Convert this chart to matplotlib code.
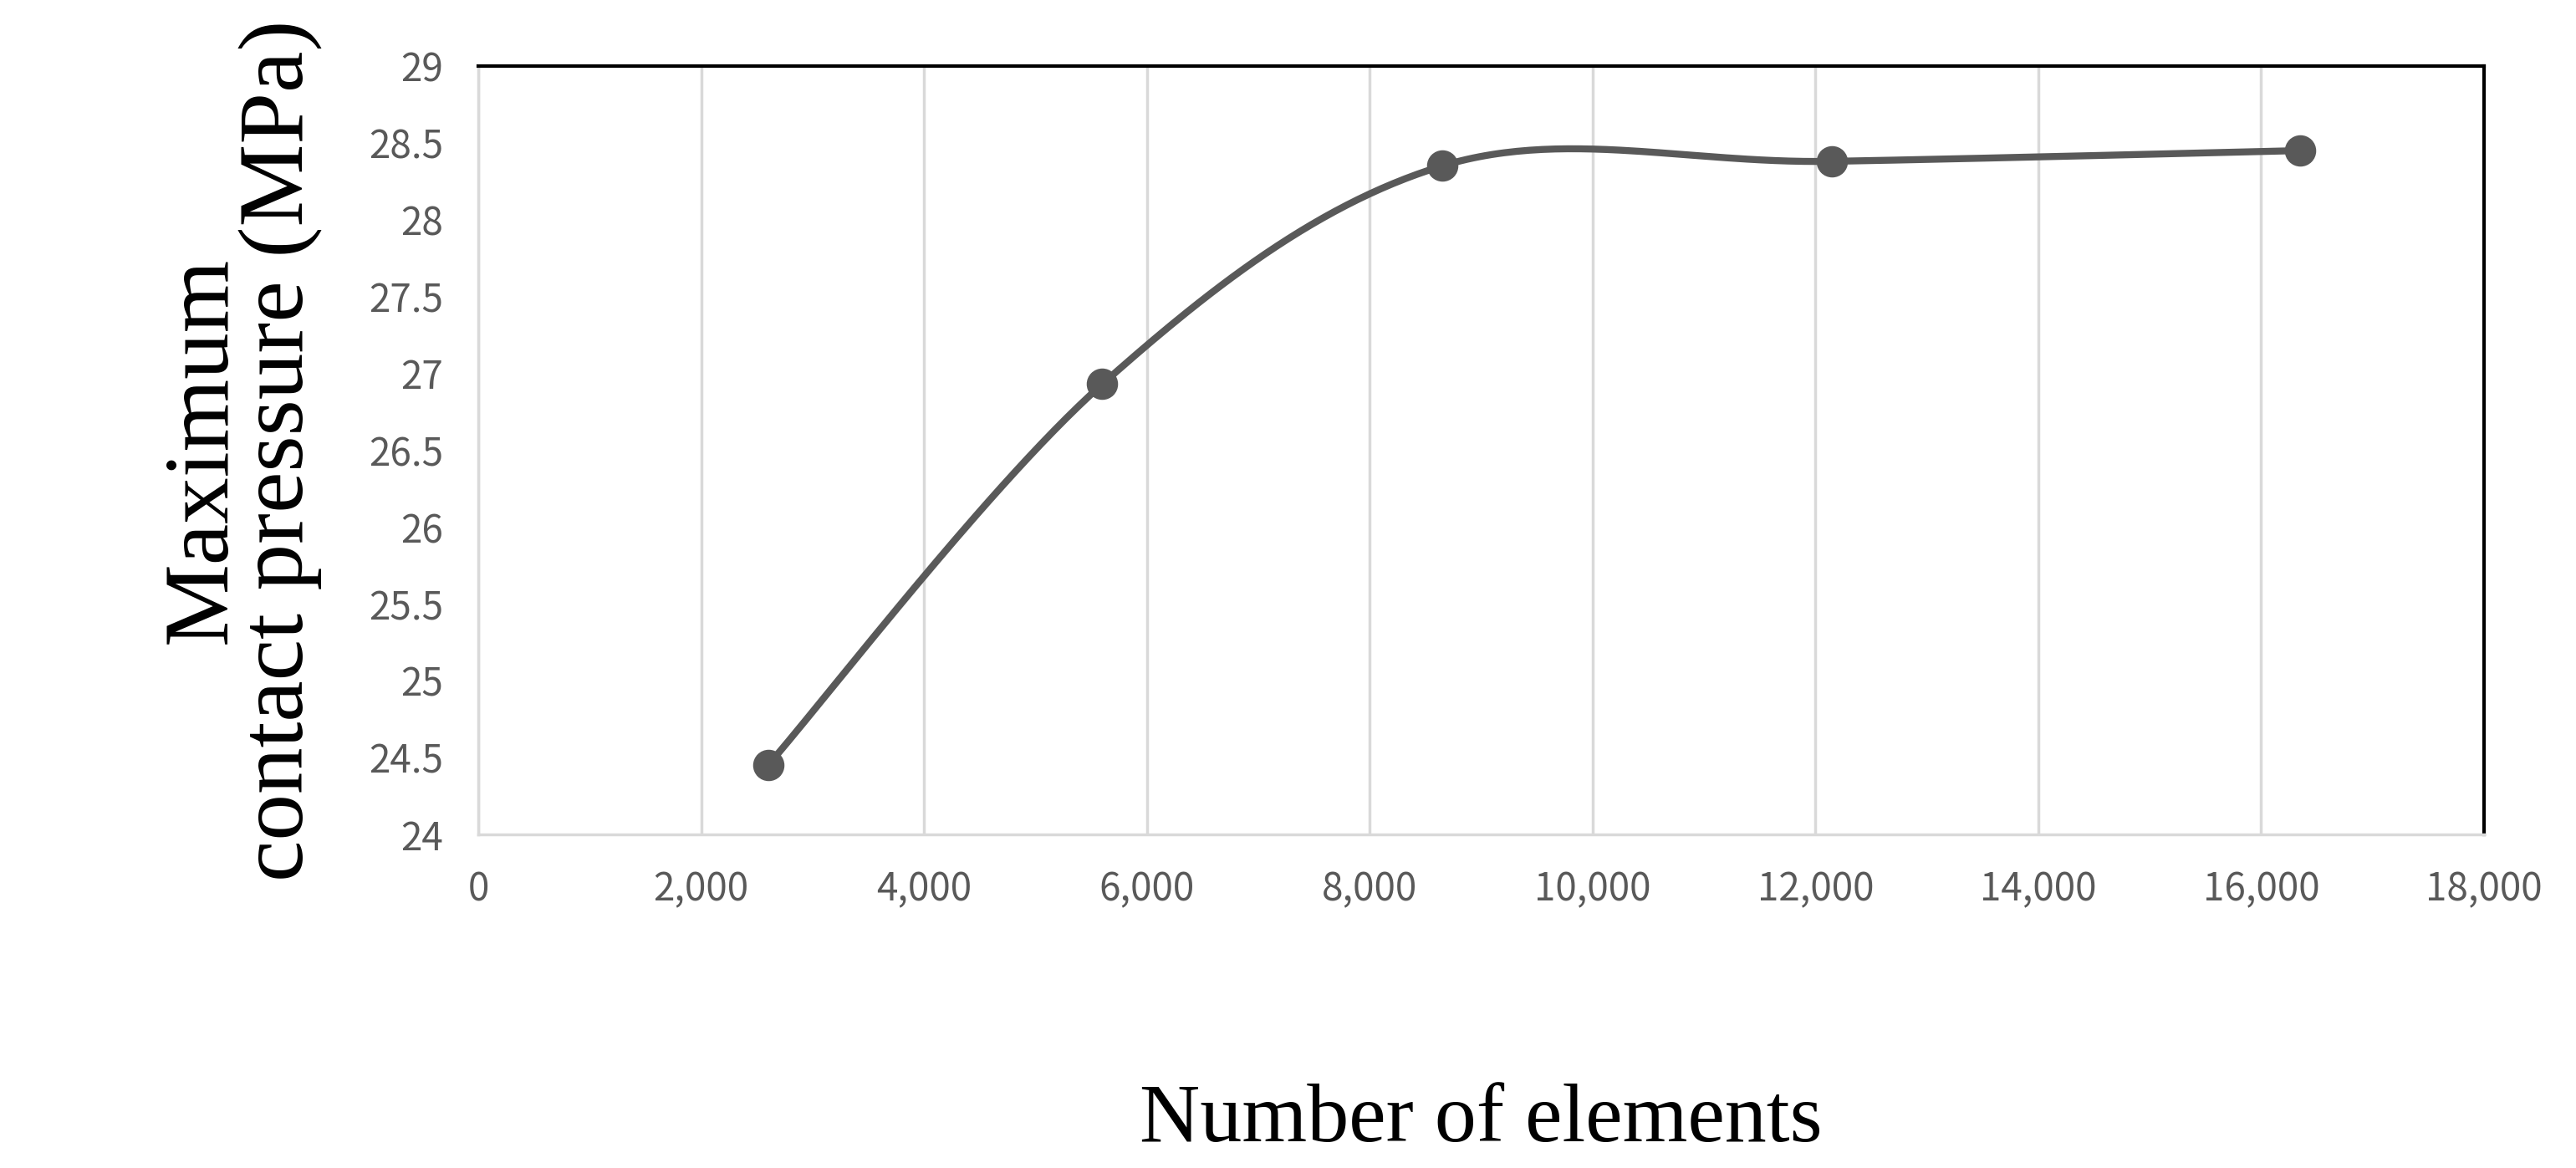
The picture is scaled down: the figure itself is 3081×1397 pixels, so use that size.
import numpy as np
import matplotlib.pyplot as plt
from matplotlib.ticker import FuncFormatter

# data
elements = [2600, 5600, 8650, 12150, 16350]
pressure = [24.45, 26.93, 28.35, 28.38, 28.45]

def smooth(xs, ys, n=60):
    # Excel-like smoothed line (cubic Bezier through the points)
    p = np.column_stack([xs, ys]).astype(float)
    p = np.vstack([p[0], p, p[-1]])
    out = []
    t = np.linspace(0, 1, n)[:, None]
    for i in range(1, len(p) - 2):
        a, d = p[i], p[i + 1]
        b = a + (p[i + 1] - p[i - 1]) / 6
        c = d - (p[i + 2] - p[i]) / 6
        out.append((1-t)**3*a + 3*(1-t)**2*t*b + 3*(1-t)*t**2*c + t**3*d)
    out = np.vstack(out)
    return out[:, 0], out[:, 1]

fig = plt.figure(figsize=(30.81, 13.97), dpi=100)
ax = fig.add_axes([572/3081, 1 - 998/1397, (2971-572)/3081, (998-79)/1397])

sx, sy = smooth(elements, pressure)
ax.plot(sx, sy, color='#595959', lw=6)
ax.plot(elements, pressure, 'o', color='#595959', ms=26)

ax.set_xlim(0, 18000)
ax.set_ylim(24, 29)
ax.set_xticks(range(0, 18001, 2000))
ax.set_yticks(np.arange(24, 29.01, 0.5))
ax.xaxis.set_major_formatter(FuncFormatter(lambda v, p: f'{int(v):,}'))
ax.yaxis.set_major_formatter(FuncFormatter(lambda v, p: f'{v:g}'))
ax.grid(axis='x', color='#d9d9d9', lw=2.5)
ax.set_axisbelow(True)
ax.tick_params(length=0, labelsize=33, labelcolor='#595959', pad=30)
for lab in ax.get_xticklabels() + ax.get_yticklabels():
    lab.set_family(['Noto Sans CJK KR', 'DejaVu Sans'])
for s in ['top', 'right']:
    ax.spines[s].set_color('black')
    ax.spines[s].set_linewidth(3)
for s in ['left', 'bottom']:
    ax.spines[s].set_color('#d9d9d9')
    ax.spines[s].set_linewidth(2.5)

ax.set_xlabel('Number of elements', family='Liberation Serif', fontsize=72, labelpad=150)
ax.set_ylabel('Maximum\ncontact pressure (MPa)', family='Liberation Serif', fontsize=80,
              labelpad=40, linespacing=0.9)

fig.savefig('out.png', dpi=100)
